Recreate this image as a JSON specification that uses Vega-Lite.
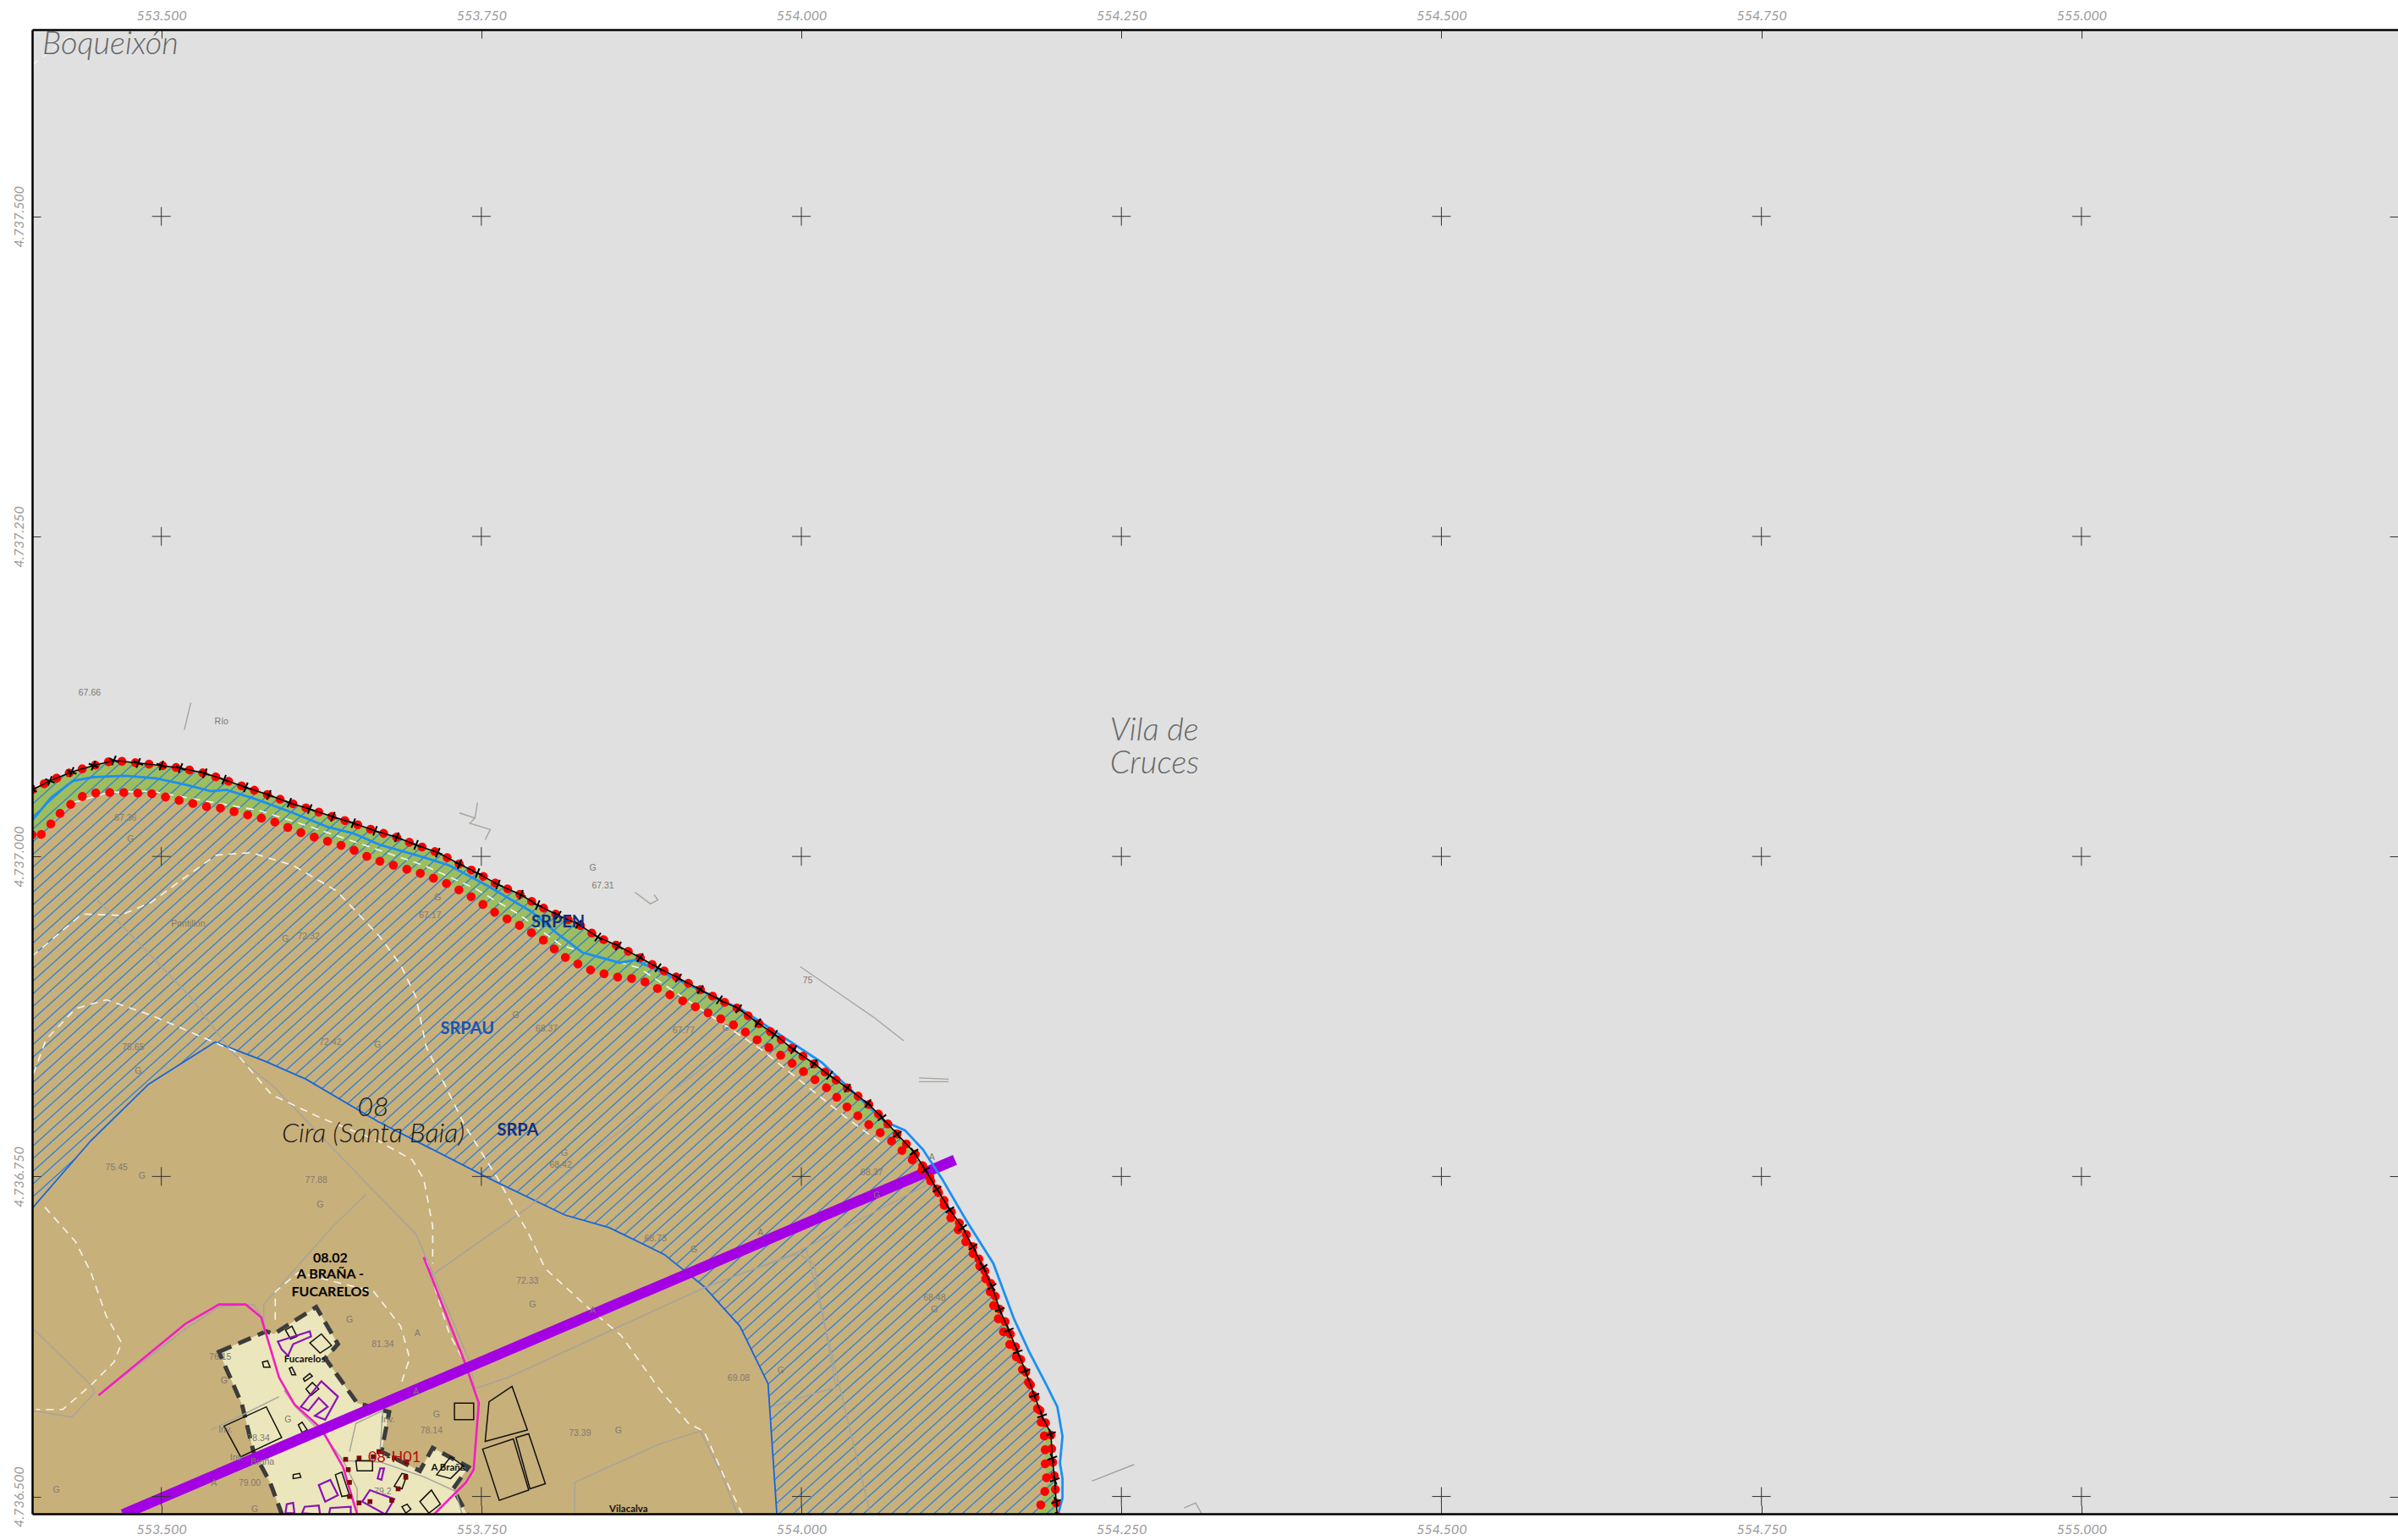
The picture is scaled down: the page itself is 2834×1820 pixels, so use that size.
{"$schema":"https://vega.github.io/schema/vega-lite/v6.json","width":2796,"height":1754,"autosize":"none","padding":{"left":38,"top":35,"right":0,"bottom":31},"background":"#ffffff","view":{"fill":"#e0e0e0","stroke":null},
"encoding":{"x":{"field":"x","type":"quantitative","scale":{"domain":[553399.1,555247.3],"nice":false,"zero":false},"axis":null},"y":{"field":"y","type":"quantitative","scale":{"domain":[4736486.5,4737645.9],"nice":false,"zero":false},"axis":null}},
"resolve":{"axis":{"x":"independent","y":"independent"}},
"datasets":{
"outside":[{"x":553399,"y":4737052},{"x":553413,"y":4737059},{"x":553430,"y":4737066},{"x":553447,"y":4737071},{"x":553463,"y":4737075},{"x":553482,"y":4737073},{"x":553500,"y":4737071},{"x":553515,"y":4737069},{"x":553534,"y":4737065},{"x":553549,"y":4737060},{"x":553566,"y":4737054},{"x":553584,"y":4737048},{"x":553600,"y":4737042},{"x":553616,"y":4737037},{"x":553634,"y":4737031},{"x":553650,"y":4737026},{"x":553667,"y":4737020},{"x":553684,"y":4737015},{"x":553699,"y":4737009},{"x":553716,"y":4737003},{"x":553733,"y":4736994},{"x":553747,"y":4736987},{"x":553763,"y":4736978},{"x":553781,"y":4736970},{"x":553794,"y":4736962},{"x":553810,"y":4736954},{"x":553826,"y":4736947},{"x":553841,"y":4736937},{"x":553857,"y":4736930},{"x":553874,"y":4736921},{"x":553888,"y":4736913},{"x":553904,"y":4736905},{"x":553921,"y":4736896},{"x":553936,"y":4736888},{"x":553951,"y":4736881},{"x":553966,"y":4736870},{"x":553979,"y":4736861},{"x":553994,"y":4736849},{"x":554010,"y":4736838},{"x":554022,"y":4736829},{"x":554036,"y":4736819},{"x":554052,"y":4736807},{"x":554063,"y":4736796},{"x":554075,"y":4736783},{"x":554088,"y":4736769},{"x":554097,"y":4736755},{"x":554106,"y":4736740},{"x":554116,"y":4736724},{"x":554126,"y":4736710},{"x":554134,"y":4736695},{"x":554142,"y":4736679},{"x":554149,"y":4736664},{"x":554155,"y":4736646},{"x":554162,"y":4736630},{"x":554169,"y":4736613},{"x":554175,"y":4736598},{"x":554182,"y":4736579},{"x":554188,"y":4736563},{"x":554195,"y":4736549},{"x":554196,"y":4736530},{"x":554198,"y":4736513},{"x":554199,"y":4736496},{"x":554200,"y":4736484},{"x":555250,"y":4736484,"k":1},{"x":555250,"y":4737650,"k":1},{"x":553399,"y":4737650,"k":1}],
"inner":[{"x":553399,"y":4737017},{"x":553402,"y":4737013},{"x":553409,"y":4737020},{"x":553416,"y":4737028},{"x":553423,"y":4737036},{"x":553431,"y":4737042},{"x":553440,"y":4737048},{"x":553451,"y":4737050},{"x":553472,"y":4737050},{"x":553493,"y":4737049},{"x":553513,"y":4737044},{"x":553535,"y":4737039},{"x":553545,"y":4737038},{"x":553565,"y":4737033},{"x":553586,"y":4737028},{"x":553605,"y":4737020},{"x":553626,"y":4737013},{"x":553646,"y":4737007},{"x":553665,"y":4736998},{"x":553685,"y":4736992},{"x":553705,"y":4736986},{"x":553725,"y":4736978},{"x":553743,"y":4736968},{"x":553761,"y":4736956},{"x":553780,"y":4736946},{"x":553798,"y":4736935},{"x":553814,"y":4736922},{"x":553833,"y":4736912},{"x":553854,"y":4736906},{"x":553874,"y":4736904},{"x":553893,"y":4736894},{"x":553912,"y":4736885},{"x":553931,"y":4736876},{"x":553950,"y":4736867},{"x":553968,"y":4736855},{"x":553985,"y":4736844},{"x":554003,"y":4736831},{"x":554020,"y":4736819},{"x":554036,"y":4736804},{"x":554052,"y":4736791},{"x":554069,"y":4736779},{"x":554092,"y":4736758},{"x":554106,"y":4736740},{"x":554114,"y":4736722},{"x":554126,"y":4736703},{"x":554137,"y":4736685},{"x":554146,"y":4736666},{"x":554151,"y":4736646},{"x":554159,"y":4736626},{"x":554169,"y":4736607},{"x":554178,"y":4736588},{"x":554186,"y":4736564},{"x":554191,"y":4736542},{"x":554190,"y":4736531},{"x":554192,"y":4736510},{"x":554186,"y":4736490},{"x":554186,"y":4736484,"k":1},{"x":553399,"y":4736484,"k":1}],
"boundary":[{"x":553399,"y":4736725},{"x":553445,"y":4736778},{"x":553490,"y":4736822},{"x":553542,"y":4736855},{"x":553581,"y":4736840},{"x":553613,"y":4736826},{"x":553669,"y":4736793},{"x":553757,"y":4736748},{"x":553815,"y":4736720},{"x":553850,"y":4736710},{"x":553893,"y":4736689},{"x":553924,"y":4736664},{"x":553952,"y":4736633},{"x":553974,"y":4736588},{"x":553981,"y":4736484},{"x":553399,"y":4736484,"k":1}],
"river":[{"x":553399,"y":4737028},{"x":553414,"y":4737046},{"x":553431,"y":4737059},{"x":553447,"y":4737062},{"x":553472,"y":4737063},{"x":553496,"y":4737061},{"x":553519,"y":4737056},{"x":553539,"y":4737051},{"x":553551,"y":4737052},{"x":553576,"y":4737044},{"x":553603,"y":4737034},{"x":553630,"y":4737023},{"x":553650,"y":4737018},{"x":553671,"y":4737009},{"x":553706,"y":4736999},{"x":553725,"y":4736993},{"x":553755,"y":4736977},{"x":553789,"y":4736957},{"x":553809,"y":4736940},{"x":553829,"y":4736925},{"x":553858,"y":4736917},{"x":553870,"y":4736919},{"x":553903,"y":4736904},{"x":553954,"y":4736880},{"x":554016,"y":4736839},{"x":554065,"y":4736793},{"x":554081,"y":4736786},{"x":554095,"y":4736771},{"x":554110,"y":4736748},{"x":554128,"y":4736717},{"x":554150,"y":4736682},{"x":554166,"y":4736639},{"x":554178,"y":4736613},{"x":554191,"y":4736588},{"x":554200,"y":4736570},{"x":554204,"y":4736547},{"x":554202,"y":4736526},{"x":554204,"y":4736514},{"x":554204,"y":4736499},{"x":554200,"y":4736484}],
"hatch":[{"x":552717,"x2":553399,"y":4736486,"y2":4737100},{"x":552728,"x2":553410,"y":4736486,"y2":4737100},{"x":552739,"x2":553421,"y":4736486,"y2":4737100},{"x":552750,"x2":553432,"y":4736486,"y2":4737100},{"x":552761,"x2":553443,"y":4736486,"y2":4737100},{"x":552772,"x2":553454,"y":4736486,"y2":4737100},{"x":552783,"x2":553465,"y":4736486,"y2":4737100},{"x":552794,"x2":553476,"y":4736486,"y2":4737100},{"x":552805,"x2":553487,"y":4736486,"y2":4737100},{"x":552816,"x2":553498,"y":4736486,"y2":4737100},{"x":552827,"x2":553509,"y":4736486,"y2":4737100},{"x":552838,"x2":553520,"y":4736486,"y2":4737100},{"x":552849,"x2":553531,"y":4736486,"y2":4737100},{"x":552860,"x2":553542,"y":4736486,"y2":4737100},{"x":552871,"x2":553553,"y":4736486,"y2":4737100},{"x":552882,"x2":553564,"y":4736486,"y2":4737100},{"x":552893,"x2":553575,"y":4736486,"y2":4737100},{"x":552904,"x2":553586,"y":4736486,"y2":4737100},{"x":552915,"x2":553597,"y":4736486,"y2":4737100},{"x":552926,"x2":553608,"y":4736486,"y2":4737100},{"x":552937,"x2":553619,"y":4736486,"y2":4737100},{"x":552948,"x2":553630,"y":4736486,"y2":4737100},{"x":552959,"x2":553641,"y":4736486,"y2":4737100},{"x":552970,"x2":553652,"y":4736486,"y2":4737100},{"x":552981,"x2":553663,"y":4736486,"y2":4737100},{"x":552992,"x2":553674,"y":4736486,"y2":4737100},{"x":553003,"x2":553685,"y":4736486,"y2":4737100},{"x":553014,"x2":553696,"y":4736486,"y2":4737100},{"x":553025,"x2":553707,"y":4736486,"y2":4737100},{"x":553036,"x2":553718,"y":4736486,"y2":4737100},{"x":553047,"x2":553729,"y":4736486,"y2":4737100},{"x":553058,"x2":553740,"y":4736486,"y2":4737100},{"x":553069,"x2":553751,"y":4736486,"y2":4737100},{"x":553080,"x2":553762,"y":4736486,"y2":4737100},{"x":553091,"x2":553773,"y":4736486,"y2":4737100},{"x":553102,"x2":553784,"y":4736486,"y2":4737100},{"x":553113,"x2":553795,"y":4736486,"y2":4737100},{"x":553124,"x2":553806,"y":4736486,"y2":4737100},{"x":553135,"x2":553817,"y":4736486,"y2":4737100},{"x":553146,"x2":553828,"y":4736486,"y2":4737100},{"x":553157,"x2":553839,"y":4736486,"y2":4737100},{"x":553168,"x2":553850,"y":4736486,"y2":4737100},{"x":553179,"x2":553861,"y":4736486,"y2":4737100},{"x":553190,"x2":553872,"y":4736486,"y2":4737100},{"x":553201,"x2":553883,"y":4736486,"y2":4737100},{"x":553212,"x2":553894,"y":4736486,"y2":4737100},{"x":553223,"x2":553905,"y":4736486,"y2":4737100},{"x":553234,"x2":553916,"y":4736486,"y2":4737100},{"x":553245,"x2":553927,"y":4736486,"y2":4737100},{"x":553256,"x2":553938,"y":4736486,"y2":4737100},{"x":553267,"x2":553949,"y":4736486,"y2":4737100},{"x":553278,"x2":553960,"y":4736486,"y2":4737100},{"x":553289,"x2":553971,"y":4736486,"y2":4737100},{"x":553300,"x2":553982,"y":4736486,"y2":4737100},{"x":553311,"x2":553993,"y":4736486,"y2":4737100},{"x":553322,"x2":554004,"y":4736486,"y2":4737100},{"x":553333,"x2":554015,"y":4736486,"y2":4737100},{"x":553344,"x2":554026,"y":4736486,"y2":4737100},{"x":553355,"x2":554037,"y":4736486,"y2":4737100},{"x":553366,"x2":554048,"y":4736486,"y2":4737100},{"x":553377,"x2":554059,"y":4736486,"y2":4737100},{"x":553388,"x2":554070,"y":4736486,"y2":4737100},{"x":553399,"x2":554081,"y":4736486,"y2":4737100},{"x":553410,"x2":554092,"y":4736486,"y2":4737100},{"x":553421,"x2":554103,"y":4736486,"y2":4737100},{"x":553432,"x2":554114,"y":4736486,"y2":4737100},{"x":553443,"x2":554125,"y":4736486,"y2":4737100},{"x":553454,"x2":554136,"y":4736486,"y2":4737100},{"x":553465,"x2":554147,"y":4736486,"y2":4737100},{"x":553476,"x2":554158,"y":4736486,"y2":4737100},{"x":553487,"x2":554169,"y":4736486,"y2":4737100},{"x":553498,"x2":554180,"y":4736486,"y2":4737100},{"x":553509,"x2":554191,"y":4736486,"y2":4737100},{"x":553520,"x2":554202,"y":4736486,"y2":4737100},{"x":553531,"x2":554213,"y":4736486,"y2":4737100},{"x":553542,"x2":554224,"y":4736486,"y2":4737100},{"x":553553,"x2":554235,"y":4736486,"y2":4737100},{"x":553564,"x2":554246,"y":4736486,"y2":4737100},{"x":553575,"x2":554257,"y":4736486,"y2":4737100},{"x":553586,"x2":554268,"y":4736486,"y2":4737100},{"x":553597,"x2":554279,"y":4736486,"y2":4737100},{"x":553608,"x2":554290,"y":4736486,"y2":4737100},{"x":553619,"x2":554301,"y":4736486,"y2":4737100},{"x":553630,"x2":554312,"y":4736486,"y2":4737100},{"x":553641,"x2":554323,"y":4736486,"y2":4737100},{"x":553652,"x2":554334,"y":4736486,"y2":4737100},{"x":553663,"x2":554345,"y":4736486,"y2":4737100},{"x":553674,"x2":554356,"y":4736486,"y2":4737100},{"x":553685,"x2":554367,"y":4736486,"y2":4737100},{"x":553696,"x2":554378,"y":4736486,"y2":4737100},{"x":553707,"x2":554389,"y":4736486,"y2":4737100},{"x":553718,"x2":554400,"y":4736486,"y2":4737100},{"x":553729,"x2":554411,"y":4736486,"y2":4737100},{"x":553740,"x2":554422,"y":4736486,"y2":4737100},{"x":553751,"x2":554433,"y":4736486,"y2":4737100},{"x":553762,"x2":554444,"y":4736486,"y2":4737100},{"x":553773,"x2":554455,"y":4736486,"y2":4737100},{"x":553784,"x2":554466,"y":4736486,"y2":4737100},{"x":553795,"x2":554477,"y":4736486,"y2":4737100},{"x":553806,"x2":554488,"y":4736486,"y2":4737100},{"x":553817,"x2":554499,"y":4736486,"y2":4737100},{"x":553828,"x2":554510,"y":4736486,"y2":4737100},{"x":553839,"x2":554521,"y":4736486,"y2":4737100},{"x":553850,"x2":554532,"y":4736486,"y2":4737100},{"x":553861,"x2":554543,"y":4736486,"y2":4737100},{"x":553872,"x2":554554,"y":4736486,"y2":4737100},{"x":553883,"x2":554565,"y":4736486,"y2":4737100},{"x":553894,"x2":554576,"y":4736486,"y2":4737100},{"x":553905,"x2":554587,"y":4736486,"y2":4737100},{"x":553916,"x2":554598,"y":4736486,"y2":4737100},{"x":553927,"x2":554609,"y":4736486,"y2":4737100},{"x":553938,"x2":554620,"y":4736486,"y2":4737100},{"x":553949,"x2":554631,"y":4736486,"y2":4737100},{"x":553960,"x2":554642,"y":4736486,"y2":4737100},{"x":553971,"x2":554653,"y":4736486,"y2":4737100},{"x":553982,"x2":554664,"y":4736486,"y2":4737100},{"x":553993,"x2":554675,"y":4736486,"y2":4737100},{"x":554004,"x2":554686,"y":4736486,"y2":4737100},{"x":554015,"x2":554697,"y":4736486,"y2":4737100},{"x":554026,"x2":554708,"y":4736486,"y2":4737100},{"x":554037,"x2":554719,"y":4736486,"y2":4737100},{"x":554048,"x2":554730,"y":4736486,"y2":4737100},{"x":554059,"x2":554741,"y":4736486,"y2":4737100},{"x":554070,"x2":554752,"y":4736486,"y2":4737100},{"x":554081,"x2":554763,"y":4736486,"y2":4737100},{"x":554092,"x2":554774,"y":4736486,"y2":4737100},{"x":554103,"x2":554785,"y":4736486,"y2":4737100},{"x":554114,"x2":554796,"y":4736486,"y2":4737100},{"x":554125,"x2":554807,"y":4736486,"y2":4737100},{"x":554136,"x2":554818,"y":4736486,"y2":4737100},{"x":554147,"x2":554829,"y":4736486,"y2":4737100},{"x":554158,"x2":554840,"y":4736486,"y2":4737100},{"x":554169,"x2":554851,"y":4736486,"y2":4737100},{"x":554180,"x2":554862,"y":4736486,"y2":4737100},{"x":554191,"x2":554873,"y":4736486,"y2":4737100},{"x":554202,"x2":554884,"y":4736486,"y2":4737100},{"x":554213,"x2":554895,"y":4736486,"y2":4737100}],
"settlement":[{"x":553545,"y":4736613},{"x":553582,"y":4736629},{"x":553588,"y":4736627},{"x":553621,"y":4736648},{"x":553638,"y":4736619},{"x":553628,"y":4736608},{"x":553653,"y":4736573},{"x":553678,"y":4736566},{"x":553672,"y":4736535},{"x":553702,"y":4736520},{"x":553712,"y":4736538},{"x":553740,"y":4736523},{"x":553728,"y":4736506},{"x":553740,"y":4736484},{"x":553595,"y":4736484},{"x":553585,"y":4736511},{"x":553572,"y":4736535},{"x":553563,"y":4736572}],
"roads":[{"g":"a","x":553450,"y":4736966},{"g":"a","x":553522,"y":4736891},{"g":"a","x":553556,"y":4736846},{"g":"a","x":553588,"y":4736820},{"g":"a","x":553660,"y":4736745},{"g":"a","x":553699,"y":4736705},{"g":"a","x":553713,"y":4736672},{"g":"b","x":553660,"y":4736736},{"g":"b","x":553634,"y":4736711},{"g":"b","x":553580,"y":4736650},{"g":"b","x":553580,"y":4736629},{"g":"c","x":553713,"y":4736674},{"g":"c","x":553787,"y":4736726},{"g":"c","x":553829,"y":4736763},{"g":"c","x":553948,"y":4736854},{"g":"d","x":553744,"y":4736584},{"g":"d","x":553771,"y":4736593},{"g":"d","x":553924,"y":4736663},{"g":"d","x":553995,"y":4736690},{"g":"d","x":554101,"y":4736745},{"g":"e","x":553708,"y":4736684},{"g":"e","x":553741,"y":4736605},{"g":"e","x":553745,"y":4736585},{"g":"f","x":553399,"y":4736632},{"g":"f","x":553445,"y":4736587},{"g":"f","x":553448,"y":4736581},{"g":"f","x":553430,"y":4736562},{"g":"f","x":553400,"y":4736567},{"g":"h","x":553451,"y":4736579},{"g":"h","x":553519,"y":4736631},{"g":"h","x":553545,"y":4736648},{"g":"h","x":553572,"y":4736650},{"g":"h","x":553580,"y":4736638},{"g":"i","x":553948,"y":4736672},{"g":"i","x":553998,"y":4736690},{"g":"i","x":554010,"y":4736681},{"g":"i","x":554027,"y":4736585},{"g":"i","x":554012,"y":4736581},{"g":"i","x":553977,"y":4736570},{"g":"j","x":554004,"y":4736693},{"g":"j","x":554054,"y":4736486},{"g":"k","x":553823,"y":4736486},{"g":"k","x":553823,"y":4736511},{"g":"k","x":553889,"y":4736541},{"g":"k","x":553921,"y":4736551},{"g":"k","x":553938,"y":4736517},{"g":"k","x":553950,"y":4736486},{"g":"l","x":553596,"y":4736583},{"g":"l","x":553605,"y":4736570},{"g":"l","x":553627,"y":4736548},{"g":"l","x":553642,"y":4736528},{"g":"l","x":553653,"y":4736506},{"g":"l","x":553653,"y":4736486},{"g":"m","x":553539,"y":4736552},{"g":"m","x":553568,"y":4736566},{"g":"m","x":553592,"y":4736578},{"g":"n","x":553647,"y":4736535},{"g":"n","x":553652,"y":4736557},{"g":"n","x":553673,"y":4736567},{"g":"n","x":553671,"y":4736537},{"g":"o","x":553642,"y":4736528},{"g":"o","x":553671,"y":4736527},{"g":"o","x":553706,"y":4736515},{"g":"o","x":553730,"y":4736504},{"g":"o","x":553735,"y":4736486},{"g":"p","x":553999,"y":4736914},{"g":"p","x":554057,"y":4736874},{"g":"p","x":554080,"y":4736856},{"g":"q","x":554092,"y":4736827},{"g":"q","x":554115,"y":4736826},{"g":"r","x":554092,"y":4736824},{"g":"r","x":554115,"y":4736824},{"g":"s","x":553523,"y":4737120},{"g":"s","x":553518,"y":4737099},{"g":"t","x":553733,"y":4737034},{"g":"t","x":553745,"y":4737030},{"g":"t","x":553741,"y":4737026},{"g":"t","x":553757,"y":4737021},{"g":"t","x":553753,"y":4737013},{"g":"u","x":553747,"y":4737042},{"g":"u","x":553745,"y":4737030},{"g":"v","x":553870,"y":4736972},{"g":"v","x":553882,"y":4736963},{"g":"v","x":553888,"y":4736966},{"g":"v","x":553885,"y":4736970},{"g":"w","x":554227,"y":4736512},{"g":"w","x":554260,"y":4736525},{"g":"z","x":554299,"y":4736491},{"g":"z","x":554308,"y":4736495},{"g":"z","x":554313,"y":4736486}],
"white":[{"g":"a","x":553409,"y":4736726},{"g":"a","x":553433,"y":4736699},{"g":"a","x":553445,"y":4736675},{"g":"a","x":553457,"y":4736641},{"g":"a","x":553469,"y":4736620},{"g":"a","x":553463,"y":4736605},{"g":"a","x":553445,"y":4736587},{"g":"a","x":553423,"y":4736568},{"g":"a","x":553402,"y":4736568},{"g":"b","x":553400,"y":4736830},{"g":"b","x":553410,"y":4736857},{"g":"b","x":553433,"y":4736881},{"g":"b","x":553457,"y":4736888},{"g":"b","x":553492,"y":4736876},{"g":"b","x":553527,"y":4736861},{"g":"b","x":553557,"y":4736848},{"g":"b","x":553586,"y":4736814},{"g":"b","x":553624,"y":4736796},{"g":"b","x":553669,"y":4736778},{"g":"b","x":553696,"y":4736763},{"g":"b","x":553705,"y":4736748},{"g":"b","x":553712,"y":4736711},{"g":"b","x":553712,"y":4736682},{"g":"c","x":553399,"y":4736922},{"g":"c","x":553438,"y":4736955},{"g":"c","x":553468,"y":4736954},{"g":"c","x":553492,"y":4736964},{"g":"c","x":553519,"y":4736984},{"g":"c","x":553543,"y":4737001},{"g":"c","x":553570,"y":4737003},{"g":"c","x":553603,"y":4736993},{"g":"c","x":553637,"y":4736973},{"g":"c","x":553671,"y":4736937},{"g":"c","x":553687,"y":4736915},{"g":"c","x":553699,"y":4736890},{"g":"c","x":553707,"y":4736851},{"g":"c","x":553737,"y":4736790},{"g":"c","x":553763,"y":4736748},{"g":"c","x":553787,"y":4736705},{"g":"c","x":553800,"y":4736678},{"g":"c","x":553835,"y":4736646},{"g":"c","x":553859,"y":4736626},{"g":"c","x":553889,"y":4736584},{"g":"c","x":553912,"y":4736557},{"g":"c","x":553924,"y":4736551},{"g":"c","x":553939,"y":4736517},{"g":"c","x":553954,"y":4736486},{"g":"d","x":553431,"y":4737042},{"g":"d","x":553459,"y":4737050},{"g":"d","x":553492,"y":4737051},{"g":"d","x":553536,"y":4737043},{"g":"d","x":553576,"y":4737036},{"g":"d","x":553617,"y":4737023},{"g":"d","x":553661,"y":4737008},{"g":"d","x":553705,"y":4736993},{"g":"d","x":553745,"y":4736975},{"g":"d","x":553779,"y":4736955},{"g":"d","x":553812,"y":4736931},{"g":"d","x":553833,"y":4736924},{"g":"d","x":553873,"y":4736913},{"g":"d","x":553969,"y":4736849},{"g":"d","x":554035,"y":4736796},{"g":"d","x":554061,"y":4736777},{"g":"e","x":553589,"y":4736638},{"g":"e","x":553589,"y":4736660},{"g":"e","x":553607,"y":4736675},{"g":"e","x":553666,"y":4736660},{"g":"e","x":553687,"y":4736633},{"g":"e","x":553694,"y":4736608},{"g":"e","x":553687,"y":4736587},{"g":"f","x":553707,"y":4736684},{"g":"f","x":553725,"y":4736627},{"g":"f","x":553740,"y":4736599},{"g":"g","x":553399,"y":4737618},{"g":"g","x":553435,"y":4737646}],
"magenta":[{"g":"a","x":553451,"y":4736579},{"g":"a","x":553519,"y":4736635},{"g":"a","x":553545,"y":4736650},{"g":"a","x":553566,"y":4736650},{"g":"a","x":553578,"y":4736640},{"g":"a","x":553592,"y":4736593},{"g":"a","x":553604,"y":4736572},{"g":"a","x":553625,"y":4736553},{"g":"a","x":553642,"y":4736523},{"g":"a","x":553653,"y":4736486},{"g":"b","x":553705,"y":4736687},{"g":"b","x":553737,"y":4736605},{"g":"b","x":553748,"y":4736573},{"g":"b","x":553744,"y":4736521},{"g":"b","x":553738,"y":4736511},{"g":"b","x":553713,"y":4736486}],
"black":[{"g":"a","x":553549,"y":4736555},{"g":"a","x":553582,"y":4736570},{"g":"a","x":553594,"y":4736546},{"g":"a","x":553562,"y":4736531},{"g":"b","x":553616,"y":4736620},{"g":"b","x":553625,"y":4736627},{"g":"b","x":553633,"y":4736618},{"g":"b","x":553624,"y":4736612},{"g":"c","x":553597,"y":4736630},{"g":"c","x":553602,"y":4736633},{"g":"c","x":553606,"y":4736625},{"g":"c","x":553601,"y":4736623},{"g":"d","x":553579,"y":4736605},{"g":"d","x":553583,"y":4736606},{"g":"d","x":553585,"y":4736601},{"g":"d","x":553580,"y":4736601},{"g":"e","x":553600,"y":4736600},{"g":"e","x":553602,"y":4736601},{"g":"e","x":553605,"y":4736595},{"g":"e","x":553602,"y":4736595},{"g":"f","x":553611,"y":4736592},{"g":"f","x":553616,"y":4736596},{"g":"f","x":553618,"y":4736594},{"g":"f","x":553612,"y":4736590},{"g":"h","x":553613,"y":4736584},{"g":"h","x":553618,"y":4736589},{"g":"h","x":553623,"y":4736584},{"g":"h","x":553617,"y":4736579},{"g":"i","x":553607,"y":4736556},{"g":"i","x":553610,"y":4736558},{"g":"i","x":553614,"y":4736552},{"g":"i","x":553610,"y":4736550},{"g":"j","x":553603,"y":4736517},{"g":"j","x":553608,"y":4736518},{"g":"j","x":553609,"y":4736515},{"g":"j","x":553603,"y":4736514},{"g":"k","x":553652,"y":4736528},{"g":"k","x":553665,"y":4736528},{"g":"k","x":553665,"y":4736520},{"g":"k","x":553653,"y":4736520},{"g":"l","x":553636,"y":4736517},{"g":"l","x":553641,"y":4736519},{"g":"l","x":553647,"y":4736501},{"g":"l","x":553641,"y":4736500},{"g":"m","x":553682,"y":4736508},{"g":"m","x":553688,"y":4736518},{"g":"m","x":553692,"y":4736517},{"g":"m","x":553688,"y":4736506},{"g":"n","x":553702,"y":4736496},{"g":"n","x":553711,"y":4736505},{"g":"n","x":553718,"y":4736494},{"g":"n","x":553709,"y":4736487},{"g":"o","x":553688,"y":4736492},{"g":"o","x":553692,"y":4736494},{"g":"o","x":553695,"y":4736490},{"g":"o","x":553691,"y":4736487},{"g":"p","x":553729,"y":4736573},{"g":"p","x":553744,"y":4736573},{"g":"p","x":553744,"y":4736560},{"g":"p","x":553729,"y":4736560},{"g":"q","x":553715,"y":4736517},{"g":"q","x":553726,"y":4736531},{"g":"q","x":553736,"y":4736524},{"g":"q","x":553726,"y":4736514},{"g":"r","x":553753,"y":4736543},{"g":"r","x":553756,"y":4736574},{"g":"r","x":553774,"y":4736586},{"g":"r","x":553786,"y":4736552},{"g":"s","x":553751,"y":4736537},{"g":"s","x":553775,"y":4736545},{"g":"s","x":553787,"y":4736505},{"g":"s","x":553764,"y":4736497},{"g":"t","x":553777,"y":4736546},{"g":"t","x":553787,"y":4736549},{"g":"t","x":553800,"y":4736510},{"g":"t","x":553788,"y":4736506}],
"purple":[{"g":"a","x":553591,"y":4736621},{"g":"a","x":553616,"y":4736629},{"g":"a","x":553617,"y":4736625},{"g":"a","x":553603,"y":4736619},{"g":"a","x":553599,"y":4736610},{"g":"a","x":553594,"y":4736615},{"g":"b","x":553609,"y":4736570},{"g":"b","x":553625,"y":4736590},{"g":"b","x":553638,"y":4736578},{"g":"b","x":553628,"y":4736560},{"g":"b","x":553620,"y":4736563},{"g":"b","x":553630,"y":4736570},{"g":"b","x":553623,"y":4736577},{"g":"b","x":553615,"y":4736567},{"g":"c","x":553623,"y":4736509},{"g":"c","x":553632,"y":4736513},{"g":"c","x":553638,"y":4736501},{"g":"c","x":553628,"y":4736496},{"g":"d","x":553657,"y":4736496},{"g":"d","x":553663,"y":4736505},{"g":"d","x":553682,"y":4736498},{"g":"d","x":553675,"y":4736486},{"g":"e","x":553597,"y":4736487},{"g":"e","x":553598,"y":4736494},{"g":"e","x":553603,"y":4736495},{"g":"e","x":553604,"y":4736487},{"g":"f","x":553610,"y":4736487},{"g":"f","x":553612,"y":4736492},{"g":"f","x":553623,"y":4736493},{"g":"f","x":553624,"y":4736486},{"g":"h","x":553631,"y":4736486},{"g":"h","x":553632,"y":4736491},{"g":"h","x":553648,"y":4736492},{"g":"h","x":553648,"y":4736486},{"g":"i","x":553669,"y":4736514},{"g":"i","x":553671,"y":4736522},{"g":"i","x":553674,"y":4736522},{"g":"i","x":553672,"y":4736513}],
"maroon":[{"x":553644,"y":4736529},{"x":553654.5,"y":4736530},{"x":553670,"y":4736535},{"x":553665.5,"y":4736531},{"x":553682,"y":4736530},{"x":553691.5,"y":4736527},{"x":553691,"y":4736515},{"x":553685,"y":4736506},{"x":553680,"y":4736497},{"x":553654.5,"y":4736495},{"x":553663,"y":4736496},{"x":553647,"y":4736511},{"x":553647,"y":4736500},{"x":553646,"y":4736521}],
"grid":[{"x":553500,"y":4737500},{"x":553750,"y":4737500},{"x":554000,"y":4737500},{"x":554250,"y":4737500},{"x":554500,"y":4737500},{"x":554750,"y":4737500},{"x":555000,"y":4737500},{"x":553500,"y":4737250},{"x":553750,"y":4737250},{"x":554000,"y":4737250},{"x":554250,"y":4737250},{"x":554500,"y":4737250},{"x":554750,"y":4737250},{"x":555000,"y":4737250},{"x":553500,"y":4737000},{"x":553750,"y":4737000},{"x":554000,"y":4737000},{"x":554250,"y":4737000},{"x":554500,"y":4737000},{"x":554750,"y":4737000},{"x":555000,"y":4737000},{"x":553500,"y":4736750},{"x":553750,"y":4736750},{"x":554000,"y":4736750},{"x":554250,"y":4736750},{"x":554500,"y":4736750},{"x":554750,"y":4736750},{"x":555000,"y":4736750},{"x":553500,"y":4736500},{"x":553750,"y":4736500},{"x":554000,"y":4736500},{"x":554250,"y":4736500},{"x":554500,"y":4736500},{"x":554750,"y":4736500},{"x":555000,"y":4736500}],
"small":[{"t":"67.66","x":553444,"y":4737128},{"t":"Río","x":553547,"y":4737105},{"t":"67.36","x":553472,"y":4737030},{"t":"G","x":553476,"y":4737013},{"t":"Pontillón","x":553521,"y":4736947},{"t":"G","x":553597,"y":4736935},{"t":"72.32","x":553615,"y":4736937},{"t":"G","x":553716,"y":4736968},{"t":"67.17","x":553710,"y":4736954},{"t":"G","x":553837,"y":4736991},{"t":"67.31","x":553845,"y":4736977},{"t":"75.65","x":553478,"y":4736851},{"t":"G","x":553482,"y":4736832},{"t":"72.42","x":553632,"y":4736855},{"t":"G","x":553669,"y":4736853},{"t":"G","x":553777,"y":4736876},{"t":"68.37","x":553801,"y":4736865},{"t":"75.45","x":553465,"y":4736757},{"t":"G","x":553485,"y":4736750},{"t":"77.88","x":553621,"y":4736747},{"t":"G","x":553624,"y":4736728},{"t":"72.33","x":553786,"y":4736668},{"t":"G","x":553790,"y":4736650},{"t":"G","x":553647,"y":4736638},{"t":"81.34","x":553673,"y":4736619},{"t":"A","x":553700,"y":4736627},{"t":"76.15","x":553546,"y":4736609},{"t":"G","x":553549,"y":4736590},{"t":"G","x":553599,"y":4736560},{"t":"78.34","x":553576,"y":4736545},{"t":"78.14","x":553711,"y":4736551},{"t":"G","x":553715,"y":4736564},{"t":"A","x":553699,"y":4736582},{"t":"73.39","x":553827,"y":4736549},{"t":"G","x":553418,"y":4736505},{"t":"79.00","x":553569,"y":4736510},{"t":"A","x":553541,"y":4736510},{"t":"G","x":553573,"y":4736490},{"t":"Inv.","x":553559,"y":4736530},{"t":"Braña","x":553579,"y":4736527},{"t":"Inv.","x":553677,"y":4736560},{"t":"Inv.","x":553550,"y":4736552},{"t":"79.2","x":553673,"y":4736504},{"t":"67.77","x":553908,"y":4736864},{"t":"G","x":553941,"y":4736866},{"t":"G","x":553815,"y":4736768},{"t":"68.42","x":553812,"y":4736759},{"t":"68.73","x":553886,"y":4736701},{"t":"G","x":553916,"y":4736693},{"t":"A","x":553968,"y":4736706},{"t":"68.37","x":554055,"y":4736753},{"t":"G","x":554059,"y":4736735},{"t":"A","x":554102,"y":4736765},{"t":"68.48","x":554104,"y":4736655},{"t":"G","x":554104,"y":4736646},{"t":"69.08","x":553951,"y":4736592},{"t":"G","x":553984,"y":4736598},{"t":"75","x":554005,"y":4736903},{"t":"G","x":553857,"y":4736551},{"t":"A","x":553837,"y":4736645}]
},
"layer":[
{"data":{"values":[{"x":553399,"x2":554300,"y":4736484,"y2":4737100}]},"mark":{"type":"rect","fill":"#9dbd5e","clip":true},"encoding":{"x2":{"field":"x2"},"y2":{"field":"y2"}}},
{"data":{"name":"inner"},"mark":{"type":"line","interpolate":"linear-closed","order":null,"fill":"#c8b07b","strokeWidth":0,"clip":true}},
{"data":{"name":"hatch"},"mark":{"type":"rule","stroke":"#2f7fd6","strokeWidth":1.3,"clip":true},"encoding":{"x2":{"field":"x2"},"y2":{"field":"y2"}}},
{"data":{"name":"outside"},"mark":{"type":"line","interpolate":"linear-closed","order":null,"fill":"#e0e0e0","strokeWidth":0,"clip":true}},
{"data":{"name":"boundary"},"mark":{"type":"line","interpolate":"linear-closed","order":null,"fill":"#c8b07b","strokeWidth":0,"clip":true}},
{"data":{"name":"boundary"},"transform":[{"filter":"datum.k!=1"}],"mark":{"type":"line","order":null,"stroke":"#1565dc","strokeWidth":1.8,"clip":true}},
{"data":{"name":"settlement"},"mark":{"type":"line","interpolate":"linear-closed","order":null,"fill":"#ece6bc","stroke":"#3c3c3c","strokeWidth":5,"strokeDash":[16,9],"clip":true}},
{"data":{"name":"roads"},"mark":{"type":"line","order":null,"stroke":"#a4a39c","strokeWidth":1.4,"clip":true},"encoding":{"detail":{"field":"g"}}},
{"data":{"name":"white"},"mark":{"type":"line","order":null,"stroke":"#f4f4f0","strokeWidth":1.6,"strokeDash":[9,7],"clip":true},"encoding":{"detail":{"field":"g"}}},
{"data":{"name":"magenta"},"mark":{"type":"line","order":null,"stroke":"#f21fc0","strokeWidth":2.6,"clip":true},"encoding":{"detail":{"field":"g"}}},
{"data":{"name":"black"},"mark":{"type":"line","interpolate":"linear-closed","order":null,"stroke":"#111111","strokeWidth":1.5,"clip":true},"encoding":{"detail":{"field":"g"}}},
{"data":{"name":"purple"},"mark":{"type":"line","interpolate":"linear-closed","order":null,"stroke":"#8a12b8","strokeWidth":2.2,"clip":true},"encoding":{"detail":{"field":"g"}}},
{"data":{"name":"maroon"},"mark":{"type":"point","shape":"square","filled":true,"fill":"#7c0808","stroke":null,"size":32,"opacity":1,"clip":true}},
{"data":{"values":[{"x":553470,"y":4736486},{"x":554120,"y":4736763}]},"mark":{"type":"line","stroke":"#a300e3","strokeWidth":12.5,"clip":true}},
{"data":{"name":"river"},"mark":{"type":"line","order":null,"stroke":"#1a90f2","strokeWidth":2.8,"clip":true}},
{"data":{"name":"inner"},"transform":[{"filter":"datum.k!=1"}],"mark":{"type":"line","order":null,"stroke":"#ff0000","strokeWidth":10.5,"strokeCap":"round","strokeDash":[0.1,16.5],"clip":true}},
{"data":{"name":"outside"},"transform":[{"filter":"datum.k!=1"}],"mark":{"type":"line","order":null,"stroke":"#ff0000","strokeWidth":10.5,"strokeCap":"round","strokeDash":[0.1,16],"clip":true}},
{"data":{"name":"outside"},"transform":[{"filter":"datum.k!=1"}],"mark":{"type":"line","order":null,"stroke":"#000000","strokeWidth":1.5,"clip":true}},
{"data":{"name":"outside"},"transform":[{"filter":"datum.k!=1 && datum.x<553800"}],"mark":{"type":"point","shape":"M-1,0L1,0M0,-1L0,1","size":144,"angle":22,"stroke":"#000000","strokeWidth":2,"opacity":1,"clip":true}},
{"data":{"name":"outside"},"transform":[{"filter":"datum.k!=1 && datum.x>=553800 && datum.x<554060"}],"mark":{"type":"point","shape":"M-1,0L1,0M0,-1L0,1","size":144,"angle":35,"stroke":"#000000","strokeWidth":2,"opacity":1,"clip":true}},
{"data":{"name":"outside"},"transform":[{"filter":"datum.k!=1 && datum.x>=554060 && datum.x<554150"}],"mark":{"type":"point","shape":"M-1,0L1,0M0,-1L0,1","size":144,"angle":55,"stroke":"#000000","strokeWidth":2,"opacity":1,"clip":true}},
{"data":{"name":"outside"},"transform":[{"filter":"datum.k!=1 && datum.x>=554150"}],"mark":{"type":"point","shape":"M-1,0L1,0M0,-1L0,1","size":144,"angle":70,"stroke":"#000000","strokeWidth":2,"opacity":1,"clip":true}},
{"data":{"name":"grid"},"mark":{"type":"point","shape":"M-1,0L1,0M0,-1L0,1","size":484,"stroke":"#333333","strokeWidth":1,"opacity":1,"clip":true},"encoding":{"x":{"field":"x","type":"quantitative","scale":{"domain":[553399.1,555247.3],"nice":false,"zero":false},"title":null,"axis":{"orient":"bottom","title":null,"values":[553500,553750,554000,554250,554500,554750,555000],"labelExpr":"replace(format(datum.value,',d'),/,/g,'.')","grid":false,"domain":true,"domainColor":"#000000","domainWidth":2.5,"ticks":true,"tickColor":"#333333","tickWidth":1,"tickSize":-10,"labelFont":"Lato","labelFontStyle":"italic","labelFontSize":16,"labelColor":"#9a9a9a","labelPadding":20,"labelOverlap":false,"labelFlush":false,"zindex":1}},"y":{"field":"y","type":"quantitative","scale":{"domain":[4736486.5,4737645.9],"nice":false,"zero":false},"axis":{"orient":"left","title":null,"values":[4736500,4736750,4737000,4737250,4737500],"labelExpr":"replace(format(datum.value,',d'),/,/g,'.')","grid":false,"domain":true,"domainColor":"#000000","domainWidth":2.5,"ticks":true,"tickColor":"#333333","tickWidth":1,"tickSize":-10,"labelFont":"Lato","labelFontStyle":"italic","labelFontSize":16,"labelColor":"#9a9a9a","labelPadding":18,"labelAngle":-90,"labelAlign":"center","labelBaseline":"bottom","labelOverlap":false,"labelFlush":false,"zindex":1}}}},
{"data":{"name":"grid"},"mark":{"type":"point","opacity":0,"size":1},"encoding":{"x":{"field":"x","type":"quantitative","scale":{"domain":[553399.1,555247.3],"nice":false,"zero":false},"axis":{"orient":"top","title":null,"values":[553500,553750,554000,554250,554500,554750,555000],"labelExpr":"replace(format(datum.value,',d'),/,/g,'.')","grid":false,"domain":true,"domainColor":"#000000","domainWidth":2.5,"ticks":true,"tickColor":"#333333","tickWidth":1,"tickSize":-10,"labelFont":"Lato","labelFontStyle":"italic","labelFontSize":16,"labelColor":"#9a9a9a","labelPadding":19,"labelOverlap":false,"labelFlush":false,"zindex":1}},"y":{"field":"y","type":"quantitative","scale":{"domain":[4736486.5,4737645.9],"nice":false,"zero":false},"axis":{"orient":"right","title":null,"values":[4736500,4736750,4737000,4737250,4737500],"labels":false,"grid":false,"domain":false,"ticks":true,"tickColor":"#333333","tickWidth":1,"tickSize":-10,"zindex":1}}}},
{"data":{"name":"small"},"mark":{"type":"text","font":"Liberation Sans","fontSize":10.5,"fill":"#7d7a70","align":"center","baseline":"middle"},"encoding":{"text":{"field":"t"}}},
{"data":{"values":[{"t":"Boqueixón","x":553407,"y":4737627}]},"mark":{"type":"text","font":"Lato","fontStyle":"italic","fontSize":38,"fontWeight":300,"fill":"#686868","align":"left","baseline":"alphabetic"},"encoding":{"text":{"field":"t"}}},
{"data":{"values":[{"t":"Vila de","x":554241,"y":4737098},{"t":"Cruces","x":554241,"y":4737072}]},"mark":{"type":"text","font":"Lato","fontStyle":"italic","fontSize":38,"fontWeight":300,"fill":"#686868","align":"left","baseline":"middle"},"encoding":{"text":{"field":"t"}}},
{"data":{"values":[{"t":"08","x":553665.5,"y":4736804},{"t":"Cira (Santa Baia)","x":553665.5,"y":4736783}]},"mark":{"type":"text","font":"Lato","fontStyle":"italic","fontSize":32,"fontWeight":300,"fill":"#1a1a1a","align":"center","baseline":"middle"},"encoding":{"text":{"field":"t"}}},
{"data":{"values":[{"t":"SRPEN","x":553810,"y":4736948.5},{"t":"SRPA","x":553778.5,"y":4736786}]},"mark":{"type":"text","font":"Lato","fontWeight":700,"fontSize":20,"fill":"#0f2f85","align":"center","baseline":"middle"},"encoding":{"text":{"field":"t"}}},
{"data":{"values":[{"t":"SRPAU","x":553739,"y":4736865}]},"mark":{"type":"text","font":"Lato","fontWeight":700,"fontSize":20,"fill":"#1a55b5","align":"center","baseline":"middle"},"encoding":{"text":{"field":"t"}}},
{"data":{"values":[{"t":"08.02","x":553632,"y":4736686},{"t":"A BRAÑA -","x":553632,"y":4736673.5},{"t":"FUCARELOS","x":553632,"y":4736660}]},"mark":{"type":"text","font":"Lato","fontWeight":700,"fontSize":16,"fill":"#000000","align":"center","baseline":"middle"},"encoding":{"text":{"field":"t"}}},
{"data":{"values":[{"t":"Fucarelos","x":553612,"y":4736607},{"t":"A Braña","x":553724,"y":4736522},{"t":"Vilacalva","x":553865,"y":4736490}]},"mark":{"type":"text","font":"Lato","fontWeight":700,"fontSize":11.5,"fill":"#111111","align":"center","baseline":"middle"},"encoding":{"text":{"field":"t"}}},
{"data":{"values":[{"t":"08-H01","x":553682,"y":4736530}]},"mark":{"type":"text","font":"Lato","fontWeight":400,"fontSize":18,"fill":"#b80c0c","align":"center","baseline":"middle"},"encoding":{"text":{"field":"t"}}}
]}
